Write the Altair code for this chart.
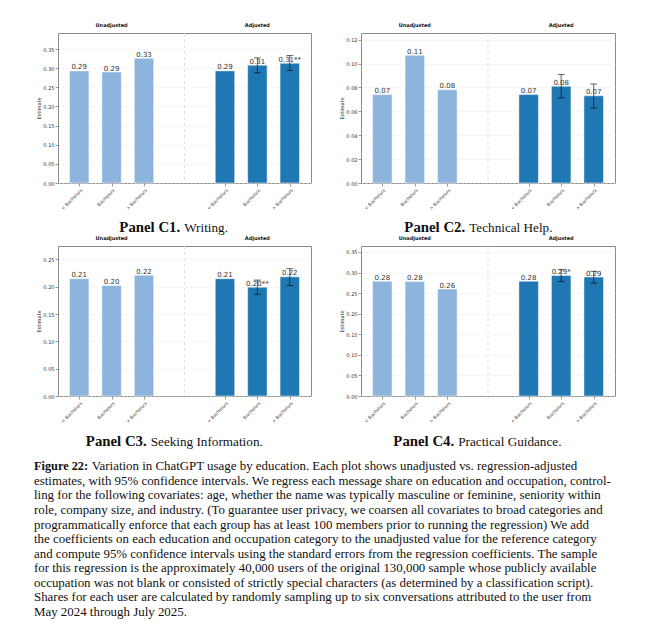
import altair as alt
import pandas as pd

# ---------------- data ----------------
categories = ["< Bachelors", "Bachelors", "> Bachelors"]
groups = ["Unadjusted", "Adjusted"]

panel_ids = ["Panel C1.", "Panel C2.", "Panel C3.", "Panel C4."]
panel_names = ["Writing.", "Technical Help.", "Seeking Information.", "Practical Guidance."]

c1_unadjusted = [0.293, 0.290, 0.326]
c1_adjusted = [0.293, 0.308, 0.313]
c1_ci_low = [None, 0.288, 0.294]
c1_ci_high = [None, 0.327, 0.333]
c1_stars = ["", "", "**"]
c1_ticks = [0.00, 0.05, 0.10, 0.15, 0.20, 0.25, 0.30, 0.35]
c1_ymax = 0.392

c2_unadjusted = [0.074, 0.107, 0.078]
c2_adjusted = [0.074, 0.081, 0.073]
c2_ci_low = [None, 0.0712, 0.0628]
c2_ci_high = [None, 0.0908, 0.0829]
c2_stars = ["", "", ""]
c2_ticks = [0.00, 0.02, 0.04, 0.06, 0.08, 0.10, 0.12]
c2_ymax = 0.1256

c3_unadjusted = [0.2146, 0.202, 0.221]
c3_adjusted = [0.2146, 0.199, 0.218]
c3_ci_low = [None, 0.186, 0.202]
c3_ci_high = [None, 0.212, 0.233]
c3_stars = ["", "**", ""]
c3_ticks = [0.00, 0.05, 0.10, 0.15, 0.20, 0.25]
c3_ymax = 0.2744

c4_unadjusted = [0.279, 0.278, 0.260]
c4_adjusted = [0.279, 0.293, 0.289]
c4_ci_low = [None, 0.278, 0.274]
c4_ci_high = [None, 0.307, 0.303]
c4_stars = ["", "*", ""]
c4_ticks = [0.00, 0.05, 0.10, 0.15, 0.20, 0.25, 0.30, 0.35]
c4_ymax = 0.3645

caption_bold = "Figure 22:"
caption_lines = [
    "Variation in ChatGPT usage by education. Each plot shows unadjusted vs. regression-adjusted",
    "estimates, with 95% confidence intervals. We regress each message share on education and occupation, control-",
    "ling for the following covariates: age, whether the name was typically masculine or feminine, seniority within",
    "role, company size, and industry. (To guarantee user privacy, we coarsen all covariates to broad categories and",
    "programmatically enforce that each group has at least 100 members prior to running the regression) We add",
    "the coefficients on each education and occupation category to the unadjusted value for the reference category",
    "and compute 95% confidence intervals using the standard errors from the regression coefficients. The sample",
    "for this regression is the approximately 40,000 users of the original 130,000 sample whose publicly available",
    "occupation was not blank or consisted of strictly special characters (as determined by a classification script).",
    "Shares for each user are calculated by randomly sampling up to six conversations attributed to the user from",
    "May 2024 through July 2025.",
]

# ---------------- layout / style ----------------
GROUP_OFFSET = 4.5
HALF_BAR = 0.3
CAP = 0.105
X_DOMAIN = [-0.655, 7.155]
LIGHT = "#8db4dc"
DARK = "#1f77b4"
SANS = "DejaVu Sans"
SERIF = "Liberation Serif"

tick_pos = [ci + gi * GROUP_OFFSET for gi in range(len(groups)) for ci in range(len(categories))]
tick_lab = [categories[ci] for gi in range(len(groups)) for ci in range(len(categories))]
label_expr = " : ".join(
    f"abs(datum.value - {p}) < 0.01 ? '{lab}'" for p, lab in zip(tick_pos, tick_lab)
) + " : ''"
divider = (len(categories) - 1 + GROUP_OFFSET) / 2.0
header_pos = [(len(categories) - 1) / 2.0 + gi * GROUP_OFFSET for gi in range(len(groups))]


def build_df(unadj, adj, lo, hi, stars):
    rows = []
    for gi, g in enumerate(groups):
        for ci, c in enumerate(categories):
            pos = ci + gi * GROUP_OFFSET
            rows.append({
                "group": g,
                "category": c,
                "pos": pos,
                "x0": pos - HALF_BAR,
                "x1": pos + HALF_BAR,
                "c0": pos - CAP,
                "c1": pos + CAP,
                "value": unadj[ci] if gi == 0 else adj[ci],
                "lo": None if gi == 0 else lo[ci],
                "hi": None if gi == 0 else hi[ci],
                "stars": "" if gi == 0 else stars[ci],
            })
    return pd.DataFrame(rows)


def panel(df, ticks, ymax, pid, name, split_x, cap_y, width):
    xscale = alt.Scale(domain=X_DOMAIN, nice=False, zero=False)
    yscale = alt.Scale(domain=[0, ymax], nice=False)
    x_axis = alt.Axis(values=tick_pos, labelExpr=label_expr, labelAngle=-45, labelAlign="right",
                      labelBaseline="top", labelFontSize=4.5, labelPadding=1.5, tickSize=3,
                      tickWidth=0.6, tickColor="#555", grid=False, domain=False, title=None,
                      labelColor="#333", labelFont=SANS)
    y_axis = alt.Axis(values=ticks, format=".2f", labelFontSize=5, labelFont=SANS, labelColor="#333",
                      labelPadding=1, tickSize=3, tickWidth=0.6, tickColor="#555",
                      title="Estimate", titleFontSize=5, titleFont=SANS, titleFontWeight="normal",
                      titleColor="#222", titlePadding=1.5, grid=True, gridDash=[2, 2],
                      gridColor="#e2e2e2", gridWidth=0.6, domain=False)
    base = alt.Chart(df)
    bars = base.mark_bar(stroke="white", strokeWidth=0.8, strokeOpacity=0.6).encode(
        x=alt.X("x0:Q", scale=xscale, axis=x_axis),
        x2="x1:Q",
        y=alt.Y("value:Q", scale=yscale, axis=y_axis),
        y2=alt.datum(0),
        color=alt.Color("group:N", scale=alt.Scale(domain=groups, range=[LIGHT, DARK]), legend=None),
    )
    err = base.transform_filter("datum.lo != null")
    err_line = err.mark_rule(color="black", opacity=0.6, strokeWidth=1).encode(
        x=alt.X("pos:Q", scale=xscale, axis=x_axis),
        y=alt.Y("lo:Q", scale=yscale, axis=y_axis),
        y2="hi:Q",
    )
    cap_lo = err.mark_rule(color="black", opacity=0.6, strokeWidth=1).encode(
        x=alt.X("c0:Q", scale=xscale, axis=x_axis), x2="c1:Q",
        y=alt.Y("lo:Q", scale=yscale, axis=y_axis),
    )
    cap_hi = err.mark_rule(color="black", opacity=0.6, strokeWidth=1).encode(
        x=alt.X("c0:Q", scale=xscale, axis=x_axis), x2="c1:Q",
        y=alt.Y("hi:Q", scale=yscale, axis=y_axis),
    )
    labels = base.transform_calculate(
        label="format(datum.value, '.2f') + datum.stars"
    ).mark_text(baseline="bottom", dy=-0.5, fontSize=7, font=SANS, color="#333").encode(
        x=alt.X("pos:Q", scale=xscale, axis=x_axis),
        y=alt.Y("value:Q", scale=yscale, axis=y_axis),
        text="label:N",
    )
    div = alt.Chart(pd.DataFrame({"d": [divider]})).mark_rule(
        strokeDash=[3, 3], color="#d8d8d8", strokeWidth=0.8
    ).encode(x=alt.X("d:Q", scale=xscale, axis=x_axis))
    hdr = alt.Chart(pd.DataFrame({"group": groups, "pos": header_pos})).mark_text(
        fontWeight="bold", fontSize=5, font=SANS, baseline="bottom", color="#111"
    ).encode(x=alt.X("pos:Q", scale=xscale, axis=x_axis), y=alt.value(-5), text="group:N")
    cap_df = pd.DataFrame({"pid": [pid], "name": [name]})
    cap_b = alt.Chart(cap_df).mark_text(
        align="right", baseline="alphabetic", font=SERIF, fontWeight="bold", fontSize=14.8, color="#111"
    ).encode(x=alt.value(split_x - 1.8), y=alt.value(cap_y), text="pid:N")
    cap_r = alt.Chart(cap_df).mark_text(
        align="left", baseline="alphabetic", font=SERIF, fontSize=13.2, color="#111"
    ).encode(x=alt.value(split_x + 2.2), y=alt.value(cap_y), text="name:N")
    return alt.layer(div, bars, err_line, cap_lo, cap_hi, labels, hdr, cap_b, cap_r).properties(
        width=width, height=150
    )


p1 = panel(build_df(c1_unadjusted, c1_adjusted, c1_ci_low, c1_ci_high, c1_stars), c1_ticks, c1_ymax,
           panel_ids[0], panel_names[0], 124, 198.5, 253)
p2 = panel(build_df(c2_unadjusted, c2_adjusted, c2_ci_low, c2_ci_high, c2_stars), c2_ticks, c2_ymax,
           panel_ids[1], panel_names[1], 106, 198.5, 254)
p3 = panel(build_df(c3_unadjusted, c3_adjusted, c3_ci_low, c3_ci_high, c3_stars), c3_ticks, c3_ymax,
           panel_ids[2], panel_names[2], 90.5, 199.5, 253)
p4 = panel(build_df(c4_unadjusted, c4_adjusted, c4_ci_low, c4_ci_high, c4_stars), c4_ticks, c4_ymax,
           panel_ids[3], panel_names[3], 95, 199.5, 254)

# caption
cap_df = pd.DataFrame({"line": list(range(len(caption_lines))), "text": caption_lines})
n = len(caption_lines) - 1
yscale_cap = alt.Scale(domain=[0, n], range=[11.3, 11.3 + 14.55 * n])
cap_bold = alt.Chart(pd.DataFrame({"line": [0], "text": [caption_bold]})).mark_text(
    align="left", baseline="alphabetic", font=SERIF, fontWeight="bold", fontSize=12.3, color="#111"
).encode(x=alt.value(-24), y=alt.Y("line:Q", scale=yscale_cap, axis=None), text="text:N")
cap_first = alt.Chart(cap_df).transform_filter("datum.line == 0").mark_text(
    align="left", baseline="alphabetic", font=SERIF, fontSize=12.9, color="#111"
).encode(x=alt.value(33.7), y=alt.Y("line:Q", scale=yscale_cap, axis=None), text="text:N")
cap_rest = alt.Chart(cap_df).transform_filter("datum.line > 0").mark_text(
    align="left", baseline="alphabetic", font=SERIF, fontSize=12.9, color="#111"
).encode(x=alt.value(-24), y=alt.Y("line:Q", scale=yscale_cap, axis=None), text="text:N")
caption = alt.layer(cap_bold, cap_first, cap_rest).properties(
    width=253, height=150, view=alt.ViewBackground(stroke="transparent")
)

chart = alt.concat(
    p1, p2, p3, p4, caption, columns=2, spacing={"row": 63, "column": 50}, bounds="flush"
).properties(
    padding={"left": 25, "top": 14, "right": 5, "bottom": 5}
).configure_view(
    stroke="#8a8a8a", strokeWidth=1
)

chart.save("out.html", embed_options={"renderer": "svg", "actions": False})
